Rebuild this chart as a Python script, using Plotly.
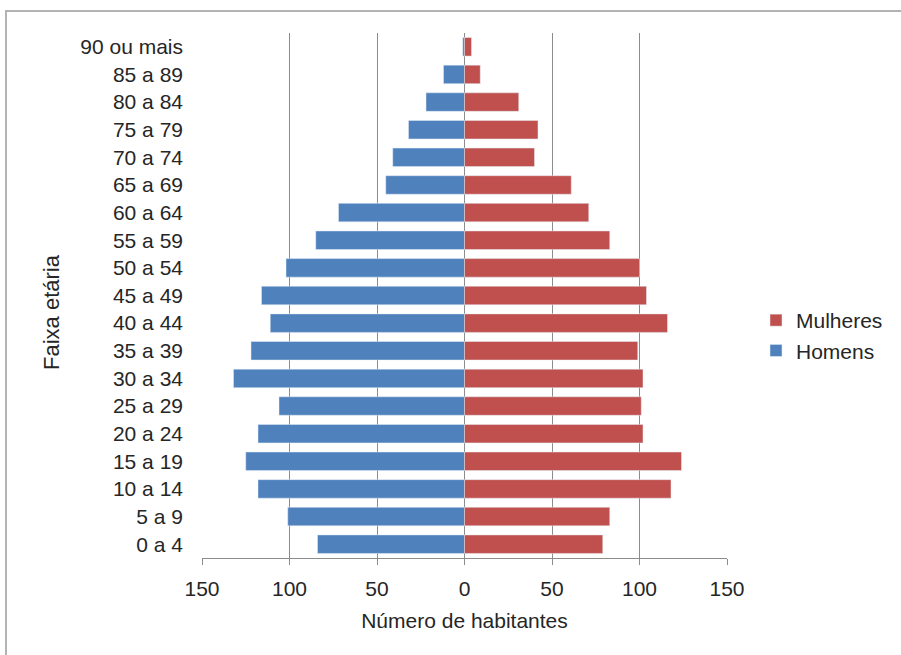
import plotly.graph_objects as go

categories = ["0 a 4", "5 a 9", "10 a 14", "15 a 19", "20 a 24", "25 a 29", "30 a 34",
              "35 a 39", "40 a 44", "45 a 49", "50 a 54", "55 a 59", "60 a 64",
              "65 a 69", "70 a 74", "75 a 79", "80 a 84", "85 a 89", "90 ou mais"]
homens = [84, 101, 118, 125, 118, 106, 132, 122, 111, 116, 102, 85, 72, 45, 41, 32, 22, 12, 1]
mulheres = [79, 83, 118, 124, 102, 101, 102, 99, 116, 104, 100, 83, 71, 61, 40, 42, 31, 9, 4]
tick_vals = [-150, -100, -50, 0, 50, 100, 150]
tick_text = ["150", "100", "50", "0", "50", "100", "150"]

BLUE = "#4F81BD"
RED = "#C0504D"
FONT = "Liberation Sans, Arial, sans-serif"
TXT = "#262626"

fig = go.Figure()
fig.add_trace(go.Bar(y=categories, x=[-v for v in homens], orientation="h", name="Homens",
                     marker=dict(color=BLUE), hoverinfo="skip"))
fig.add_trace(go.Bar(y=categories, x=mulheres, orientation="h", name="Mulheres",
                     marker=dict(color=RED), hoverinfo="skip"))

L, R, T, B = 202, 727, 33, 558
W, H = 901, 655
pw, ph = R - L, B - T

def px(x):
    return (x - L) / pw

def py(y):
    return (B - y) / ph

fig.update_layout(
    width=W, height=H,
    margin=dict(l=L, r=W - R, t=T, b=H - B, autoexpand=False),
    paper_bgcolor="white", plot_bgcolor="white",
    barmode="relative", bargap=0.33,
    font=dict(family=FONT, size=21, color=TXT),
    showlegend=True,
    legend=dict(x=px(756), y=py(300), xanchor="left", yanchor="top",
                traceorder="reversed", font=dict(size=21, color=TXT),
                itemwidth=30, tracegroupgap=0, bgcolor="rgba(0,0,0,0)"),
    xaxis=dict(range=[-150, 150], tickvals=tick_vals, ticktext=tick_text,
               showgrid=True, gridcolor="#8c8c8c", gridwidth=1,
               zeroline=True, zerolinecolor="#8c8c8c", zerolinewidth=1,
               showline=True, linecolor="#8c8c8c", ticks="outside", ticklen=6,
               tickcolor="#8c8c8c", tickfont=dict(size=21, color=TXT),
               ticklabelstandoff=6,
               title=dict(text="Número de habitantes", font=dict(size=21), standoff=14),
               fixedrange=True),
    yaxis=dict(showgrid=False, zeroline=False, showline=False, ticks="",
               tickfont=dict(size=21, color=TXT), ticklabelstandoff=18,
               fixedrange=True),
    annotations=[dict(text="Faixa etária", textangle=-90, xref="paper", yref="paper",
                      x=px(52), y=py(312), xanchor="center", yanchor="middle",
                      showarrow=False, font=dict(size=22, color=TXT))],
    shapes=[dict(type="rect", xref="paper", yref="paper",
                 x0=px(6), x1=px(960), y0=py(720), y1=py(11),
                 line=dict(color="#b3b3b3", width=2), layer="below")],
)

fig.write_html("out.html", config={"displayModeBar": False},
               post_script="document.body.style.margin='0px';")
